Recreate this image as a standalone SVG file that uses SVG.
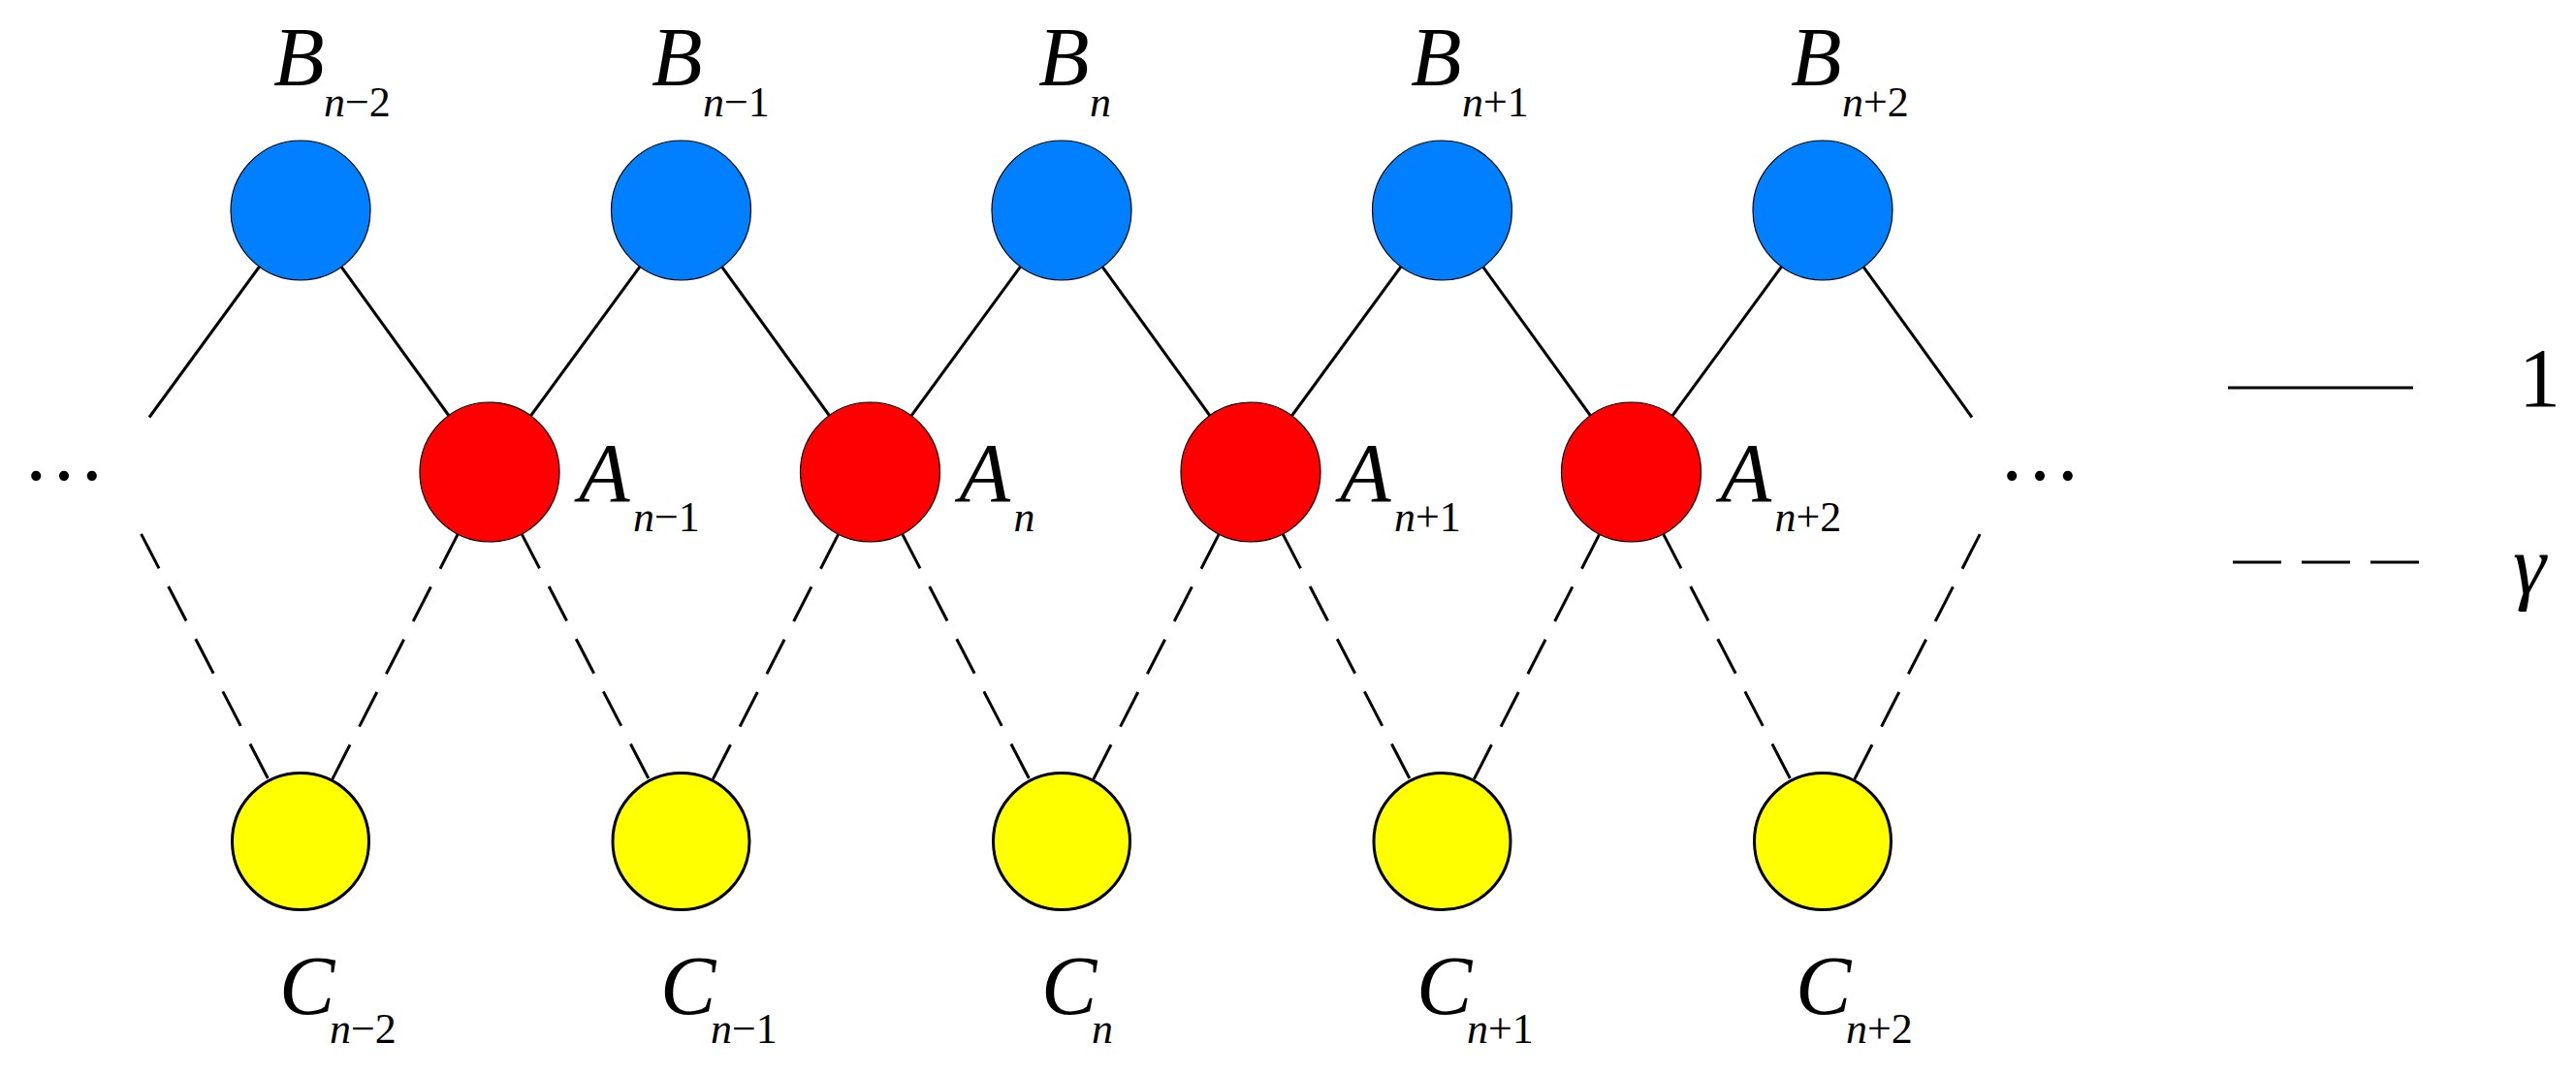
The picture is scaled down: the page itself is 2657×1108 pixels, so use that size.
<svg xmlns="http://www.w3.org/2000/svg" width="2657" height="1108" viewBox="0 0 2657 1108">
<style>
.bg{fill:#ffffff}
.s{stroke:#000;stroke-width:3;fill:none;stroke-linecap:butt}
.d{stroke:#000;stroke-width:3;fill:none;stroke-dasharray:40 21}
.ld{stroke:#000;stroke-width:3;fill:none;stroke-dasharray:50 21}
.b{fill:#0080ff;stroke:#000;stroke-width:1.2}
.a{fill:#ff0000;stroke:#000;stroke-width:1.2}
.c{fill:#ffff00;stroke:#000;stroke-width:3}
.m{font-size:86px;font-style:italic;fill:#000}
.sub{font-size:44px;fill:#000}
.i{font-style:italic}
.r{font-size:86px;fill:#000}
</style>
<rect class="bg" x="0" y="0" width="2657" height="1108"/>
<g id="connectors">
<line class="s" x1="154" y1="430.5" x2="310" y2="217"/>
<line class="s" x1="310" y1="217" x2="505" y2="487"/>
<line class="s" x1="505" y1="487" x2="702.5" y2="217"/>
<line class="s" x1="702.5" y1="217" x2="897.5" y2="487"/>
<line class="s" x1="897.5" y1="487" x2="1095" y2="217"/>
<line class="s" x1="1095" y1="217" x2="1290" y2="487"/>
<line class="s" x1="1290" y1="487" x2="1487.5" y2="217"/>
<line class="s" x1="1487.5" y1="217" x2="1682.5" y2="487"/>
<line class="s" x1="1682.5" y1="487" x2="1880" y2="217"/>
<line class="s" x1="1880" y1="217" x2="2034" y2="430.5"/>
<line class="d" x1="145.6" y1="550.9" x2="276.9" y2="804.1"/>
<line class="d" x1="472.2" y1="551.1" x2="342.8" y2="803.9"/>
<line class="d" x1="538.1" y1="550.9" x2="669.4" y2="804.1"/>
<line class="d" x1="864.7" y1="551.1" x2="735.3" y2="803.9"/>
<line class="d" x1="930.6" y1="550.9" x2="1061.9" y2="804.1"/>
<line class="d" x1="1257.2" y1="551.1" x2="1127.8" y2="803.9"/>
<line class="d" x1="1323.1" y1="550.9" x2="1454.4" y2="804.1"/>
<line class="d" x1="1649.7" y1="551.1" x2="1520.3" y2="803.9"/>
<line class="d" x1="1715.6" y1="550.9" x2="1846.9" y2="804.1"/>
<line class="d" x1="2042.2" y1="551.1" x2="1912.8" y2="803.9"/>
</g>
<g font-family="Liberation Serif, Times New Roman, Times, Noto Serif, DejaVu Serif, serif">
<g id="B_n-2"><circle class="b" cx="310" cy="217" r="72"/><text class="m" x="282" y="88">B</text><text class="sub" x="334" y="120"><tspan class="i">n</tspan>−2</text></g>
<g id="B_n-1"><circle class="b" cx="702.5" cy="217" r="72"/><text class="m" x="672" y="88">B</text><text class="sub" x="725" y="120"><tspan class="i">n</tspan>−1</text></g>
<g id="B_n"><circle class="b" cx="1095" cy="217" r="72"/><text class="m" x="1071" y="88">B</text><text class="sub" x="1124" y="120"><tspan class="i">n</tspan></text></g>
<g id="B_n+1"><circle class="b" cx="1487.5" cy="217" r="72"/><text class="m" x="1455" y="88">B</text><text class="sub" x="1508" y="120"><tspan class="i">n</tspan>+1</text></g>
<g id="B_n+2"><circle class="b" cx="1880" cy="217" r="72"/><text class="m" x="1847" y="88">B</text><text class="sub" x="1900" y="120"><tspan class="i">n</tspan>+2</text></g>
<g id="A_n-1"><circle class="a" cx="505" cy="487" r="72"/><text class="m" x="597" y="517">A</text><text class="sub" x="653" y="548"><tspan class="i">n</tspan>−1</text></g>
<g id="A_n"><circle class="a" cx="897.5" cy="487" r="72"/><text class="m" x="989.5" y="517">A</text><text class="sub" x="1045.5" y="548"><tspan class="i">n</tspan></text></g>
<g id="A_n+1"><circle class="a" cx="1290" cy="487" r="72"/><text class="m" x="1382" y="517">A</text><text class="sub" x="1438" y="548"><tspan class="i">n</tspan>+1</text></g>
<g id="A_n+2"><circle class="a" cx="1682.5" cy="487" r="72"/><text class="m" x="1774.5" y="517">A</text><text class="sub" x="1830.5" y="548"><tspan class="i">n</tspan>+2</text></g>
<g id="C_n-2"><circle class="c" cx="310" cy="868" r="70.5"/><text class="m" x="288" y="1046">C</text><text class="sub" x="340" y="1076"><tspan class="i">n</tspan>−2</text></g>
<g id="C_n-1"><circle class="c" cx="702.5" cy="868" r="70.5"/><text class="m" x="681" y="1046">C</text><text class="sub" x="733" y="1076"><tspan class="i">n</tspan>−1</text></g>
<g id="C_n"><circle class="c" cx="1095" cy="868" r="70.5"/><text class="m" x="1074" y="1046">C</text><text class="sub" x="1126" y="1076"><tspan class="i">n</tspan></text></g>
<g id="C_n+1"><circle class="c" cx="1487.5" cy="868" r="70.5"/><text class="m" x="1461" y="1046">C</text><text class="sub" x="1513" y="1076"><tspan class="i">n</tspan>+1</text></g>
<g id="C_n+2"><circle class="c" cx="1880" cy="868" r="70.5"/><text class="m" x="1852" y="1046">C</text><text class="sub" x="1904" y="1076"><tspan class="i">n</tspan>+2</text></g>
<g id="ellipsis-left"><text class="r" x="23" y="495">…</text></g>
<g id="ellipsis-right"><text class="r" x="2061" y="495">…</text></g>
<g id="legend">
<line class="s" x1="2298" y1="400" x2="2489" y2="400"/>
<line class="ld" x1="2303" y1="580" x2="2495" y2="580"/>
<text class="r" x="2598" y="419">1</text>
<text class="m" x="2592" y="612">γ</text>
</g>
</g>
</svg>
